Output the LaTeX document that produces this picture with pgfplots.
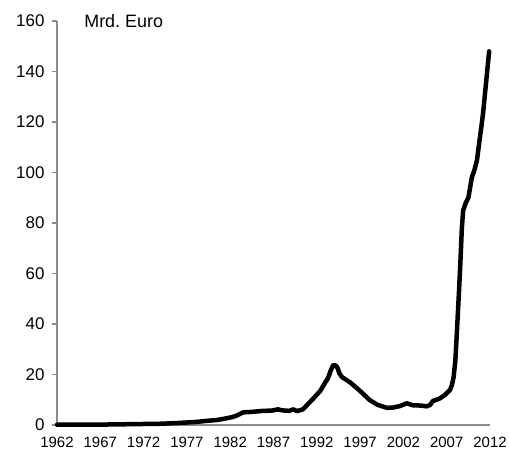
\documentclass[border=0pt]{standalone}
\usepackage{pgfplots}
\pgfplotsset{compat=1.18}
\usepackage{fontspec}
\setmainfont{Liberation Sans}
\frenchspacing
\begin{document}
\begin{tikzpicture}[x=1bp,y=1bp]
\useasboundingbox (-57bp,-29bp) rectangle (452bp,425bp);
\begin{axis}[
  at={(0,0)}, anchor=south west,
  scale only axis,
  width=433bp, height=404bp,
  xmin=1962, xmax=2012,
  ymin=0, ymax=160,
  axis x line=bottom, axis y line=left,
  axis line style={-, draw=black!45, line width=1.3bp},
  xtick={1962,1967,1972,1977,1982,1987,1992,1997,2002,2007,2012},
  xticklabels={1962,1967,1972,1977,1982,1987,1992,1997,2002,2007,2012},
  ytick={0,20,...,160},
  x tick label style={font=\fontsize{15}{17}\selectfont, yshift=-4bp},
  y tick label style={font=\fontsize{17}{19}\selectfont, xshift=-4bp},
  /pgf/number format/assume math mode=true,
  major x tick style={draw=none},
  major y tick style={draw=black!45, line width=1.3bp},
  tick align=outside,
  major tick length=5bp,
  clip=false,
]
\addplot[black, line width=4.5bp, line join=round, line cap=round] coordinates {
(1962,0.1) (1965,0.15) (1968,0.2) (1970,0.3) (1972,0.4) (1974,0.5)
(1976,0.8) (1978,1.2) (1979.5,1.7) (1980.5,2.0) (1981.5,2.6) (1982.3,3.2)
(1982.8,3.8) (1983.5,5.0) (1984.5,5.2) (1985.8,5.6) (1986.8,5.7) (1987.5,6.2)
(1988,5.8) (1988.8,5.6) (1989.3,6.2) (1989.7,5.5) (1990.4,6.2) (1990.9,8.0)
(1991.6,10.5) (1992.4,13.5) (1993.0,17.0) (1993.3,18.6) (1993.6,21.5) (1993.9,23.8)
(1994.2,23.5) (1994.4,22.6) (1994.6,20.5) (1994.9,19.0) (1995.8,17.0) (1996.6,14.7)
(1997.3,12.5) (1998.1,9.9) (1999,8.0) (2000.1,6.8) (2000.8,6.9) (2001.6,7.5)
(2002.4,8.6) (2003.1,7.8) (2004,7.7) (2004.7,7.4) (2005.1,8.0) (2005.4,9.5)
(2006.2,10.5) (2006.8,11.9) (2007.4,14.0) (2007.6,15.8) (2007.8,19) (2008.0,25.7)
(2008.15,35) (2008.3,45) (2008.45,55) (2008.6,66) (2008.75,78) (2008.9,85)
(2009.2,88) (2009.5,90) (2009.9,98) (2010.2,101) (2010.5,105) (2010.8,113)
(2011.0,118) (2011.2,123.5) (2011.5,134) (2011.7,141) (2011.9,148)
};
\node[anchor=west, font=\fontsize{18}{20}\selectfont] at (rel axis cs:0.055,1) {Mrd. Euro};
\end{axis}
\end{tikzpicture}
\end{document}
